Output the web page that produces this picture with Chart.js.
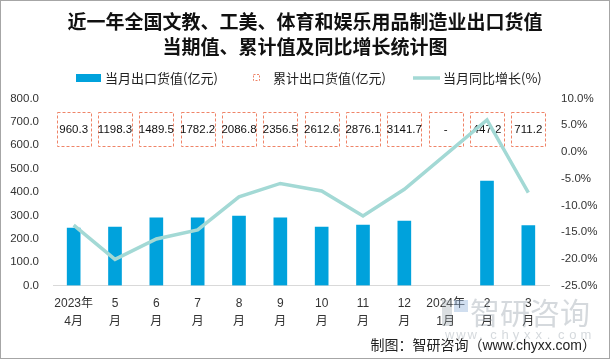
<!DOCTYPE html>
<html><head><meta charset="utf-8">
<script src="https://cdn.jsdelivr.net/npm/chart.js@4/dist/chart.umd.min.js"></script>
<style>html,body{margin:0;padding:0;background:#fff}canvas{display:block}</style>
</head><body>
<canvas id="c" width="610" height="359"></canvas>
<script>
const categories = [["2023年","4月"],["5","月"],["6","月"],["7","月"],["8","月"],["9","月"],["10","月"],["11","月"],["12","月"],["2024年","1月"],["2","月"],["3","月"]];
const monthlyValues = [246, 250, 289, 289, 297, 289, 250, 259, 276, null, 447.2, 256];
const cumulativeLabels = ["960.3","1198.3","1489.5","1782.2","2086.8","2356.5","2612.6","2876.1","3141.7","-","447.2","711.2"];
const yoyGrowth = [-13.7, -20.1, -16.3, -14.6, -8.4, -5.9, -7.3, -12.0, -7.0, null, 6.0, -7.6];
const leftTicks = {min: 0, max: 800, step: 100};
const rightTicks = {min: -25, max: 10, step: 5};

const CJK = "'Noto Sans CJK SC', sans-serif";
Chart.defaults.font.family = "'Liberation Sans', 'Noto Sans CJK SC', sans-serif";

const deco = {
  id: 'deco',
  beforeDatasetsDraw(chart) {
    const ctx = chart.ctx;
    const xs = chart.scales.x, ys = chart.scales.y;
    ctx.save();
    // cumulative value boxes
    const yc = ys.getPixelForValue(670);
    ctx.font = "11.5px 'Liberation Sans', sans-serif";
    ctx.textAlign = 'center'; ctx.textBaseline = 'middle';
    cumulativeLabels.forEach((t, i) => {
      const xc = xs.getPixelForValue(i);
      ctx.setLineDash([3, 2]);
      ctx.strokeStyle = '#EF8468';
      ctx.lineWidth = 1;
      ctx.strokeRect(Math.round(xc) - 16.5, Math.round(yc) - 16.5, 34, 34);
      ctx.setLineDash([]);
      ctx.fillStyle = '#111';
      ctx.fillText(t, xc, yc + 0.5);
    });
    ctx.restore();
  },
  afterDraw(chart) {
    const ctx = chart.ctx;
    ctx.save();
    // title
    ctx.fillStyle = '#111';
    ctx.textAlign = 'center'; ctx.textBaseline = 'middle';
    ctx.font = "bold 19px " + CJK;
    ctx.fillText('近一年全国文教、工美、体育和娱乐用品制造业出口货值', 305, 22);
    ctx.fillText('当期值、累计值及同比增长统计图', 305, 47);
    // legend
    const ly = 78;
    ctx.font = "13px " + CJK;
    ctx.textAlign = 'left';
    ctx.fillStyle = '#00A2DC';
    ctx.fillRect(76, ly - 4, 25, 8);
    ctx.fillStyle = '#222';
    ctx.fillText('当月出口货值(亿元)', 105, ly);
    ctx.setLineDash([2, 1.5]);
    ctx.strokeStyle = '#EF8468'; ctx.lineWidth = 1;
    ctx.strokeRect(253.5, ly - 3.5, 6, 6);
    ctx.setLineDash([]);
    ctx.fillText('累计出口货值(亿元)', 273, ly);
    ctx.strokeStyle = '#A3D9D5'; ctx.lineWidth = 3.5;
    ctx.beginPath(); ctx.moveTo(413, ly); ctx.lineTo(440, ly); ctx.stroke();
    ctx.fillText('当月同比增长(%)', 443, ly);
    // watermark
    ctx.fillStyle = 'rgba(150,160,170,0.35)';
    ctx.fillRect(442, 300, 10, 26);
    ctx.fillStyle = 'rgba(120,160,210,0.35)';
    ctx.fillRect(454, 300, 14, 12);
    ctx.fillStyle = 'rgba(150,160,170,0.4)';
    ctx.font = "30px " + CJK;
    ctx.textBaseline = 'middle';
    ctx.fillText('智研咨询', 470, 313);
    ctx.font = "13px 'Liberation Sans', sans-serif";
    const w = 'www.chyxx.com';
    for (let i = 0; i < w.length; i++) ctx.fillText(w[i], 445 + i * 11.3, 335);
    // footer
    ctx.fillStyle = '#222';
    ctx.textAlign = 'right';
    ctx.font = "14px 'Liberation Sans', 'Noto Sans CJK SC', sans-serif";
    ctx.fillText('制图：智研咨询（www.chyxx.com）', 596, 346);
    // border
    ctx.strokeStyle = '#a6a6a6'; ctx.lineWidth = 1;
    ctx.strokeRect(0.5, 0.5, 609, 358);
    ctx.restore();
  }
};

new Chart(document.getElementById('c'), {
  data: {
    labels: categories,
    datasets: [
      {type: 'line', label: '当月同比增长(%)', data: yoyGrowth, yAxisID: 'y1', borderColor: '#A3D9D5', borderWidth: 3.5, pointRadius: 0, tension: 0, spanGaps: true, order: 1},
      {type: 'bar', label: '当月出口货值(亿元)', data: monthlyValues, yAxisID: 'y', backgroundColor: '#00A2DC', barThickness: 13, order: 2}
    ]
  },
  options: {
    responsive: false,
    animation: false,
    layout: {padding: {top: 98.5, left: 0, right: 0, bottom: 0}},
    plugins: {legend: {display: false}, title: {display: false}, tooltip: {enabled: false}},
    scales: {
      x: {
        grid: {display: false, drawTicks: false},
        border: {display: true, color: '#d9d9d9', width: 1},
        ticks: {font: {size: 12, lineHeight: 1.5}, color: '#333', padding: 9, maxRotation: 0, autoSkip: false},
        afterFit(s) { s.height = 73.5; }
      },
      y: {
        position: 'left', min: leftTicks.min, max: leftTicks.max,
        grid: {display: false, drawTicks: false}, border: {display: false},
        ticks: {stepSize: leftTicks.step, callback: v => v.toFixed(1), padding: 14, font: {size: 11.5}, color: '#333'},
        afterFit(s) { s.width = 53; }
      },
      y1: {
        position: 'right', min: rightTicks.min, max: rightTicks.max,
        grid: {display: false, drawTicks: false}, border: {display: false},
        ticks: {stepSize: rightTicks.step, callback: v => v.toFixed(1) + '%', padding: 12, font: {size: 11.5}, color: '#333'},
        afterFit(s) { s.width = 61; }
      }
    }
  },
  plugins: [deco]
});
</script>
</body></html>
